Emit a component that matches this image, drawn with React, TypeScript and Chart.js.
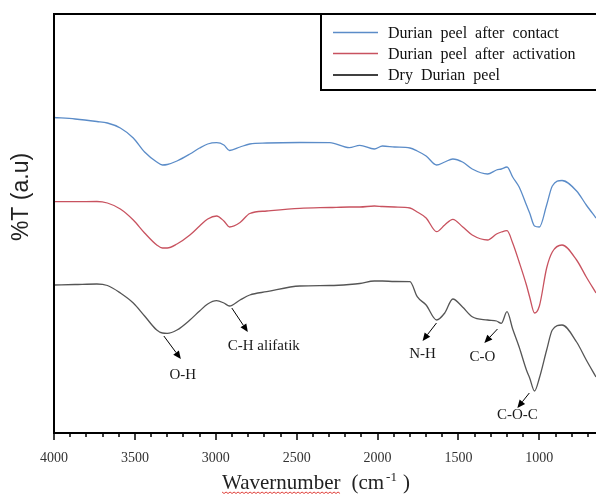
import React, { useEffect, useRef } from "react";
import { Chart, registerables } from "chart.js";

Chart.register(...registerables);

// Wavenumbers (cm-1) at which the spectra were read
const wavenumbers = [4000, 3870, 3735, 3670, 3590, 3510, 3440, 3365, 3330, 3300, 3240, 3160, 3100, 3050, 2995, 2950, 2915, 2850, 2790, 2685, 2480, 2295, 2175, 2110, 2020, 1970, 1895, 1800, 1755, 1700, 1635, 1585, 1535, 1475, 1415, 1320, 1265, 1235, 1200, 1165, 1125, 1080, 1060, 1030, 1000, 955, 920, 860, 770, 710, 650];

// %T (a.u.), offset spectra
const afterContact = [315.5, 314, 311.5, 310, 305, 295, 281, 271, 268, 268.5, 272, 279, 285, 289, 290.3, 288, 282.5, 286, 289, 290, 290.5, 290.3, 285.3, 287.7, 284, 287, 286, 285, 282, 277, 268, 271, 274, 271, 264, 259, 263, 264, 266, 256, 246, 228, 220, 207, 206, 228, 247, 252.5, 242, 228, 215];
const afterActivation = [231.3, 231.3, 231.5, 230, 224, 213, 200, 188, 185, 185, 189, 198, 207, 214, 217, 212, 206, 210.5, 219.5, 222, 224.7, 225.5, 226, 226, 227, 226.5, 226, 225, 221, 215, 201.3, 208, 213.7, 206.3, 198, 193, 199, 201, 202.3, 190, 171, 148, 136, 120, 127, 165, 181, 188, 173, 156, 140];
const dryPeel = [148, 148.5, 149, 147.5, 140, 130, 117, 103, 100, 99.7, 103, 113, 122, 129, 132.3, 130, 127, 133, 138, 141.3, 147, 147.5, 148.5, 149.5, 152, 152, 151.5, 151.3, 136.3, 128, 113, 120, 134, 126, 116.3, 113, 112, 109.7, 121.3, 104, 86, 63, 55, 42, 55, 83, 103, 108, 91, 73, 56];

const seriesNames = ["Durian peel after contact", "Durian peel after activation", "Dry Durian peel"];
const seriesColors = ["#5b8cc8", "#c8525f", "#555555"];
const legendLineColors = ["#5b8cc8", "#c8525f", "#000000"];

const xTickLabels = [4000, 3500, 3000, 2500, 2000, 1500, 1000];
const xMinorStep = 100;

// Band annotations: label, arrow start (w, v), arrow end (w, v), label anchor (w, v), alignment
const bandLabels = ["O-H", "C-H alifatik", "N-H", "C-O", "C-O-C"];
const bandArrowFrom = [[3321, 97], [2901, 125], [1636, 110], [1259, 104], [1062, 40]];
const bandArrowTo = [[3216, 74], [2802, 101], [1722, 92], [1340, 90], [1136, 25]];
const bandLabelAt = [[3204, 58], [2926, 87], [1722, 79], [1352, 76], [1136, 18]];
const bandAlign = ["center", "left", "center", "center", "center"];

const SERIF = '"Liberation Serif", "Times New Roman", serif';
const SANS = '"Liberation Sans", Arial, sans-serif';

const decor = {
  id: "decor",
  afterDraw(chart: any) {
    const { ctx, chartArea: a, scales } = chart;
    const x = scales.x;
    const y = scales.y;
    const W = chart.width;
    ctx.save();

    // frame
    ctx.strokeStyle = "#000";
    ctx.lineWidth = 2;
    ctx.beginPath();
    ctx.moveTo(a.left, a.bottom);
    ctx.lineTo(a.left, a.top);
    ctx.lineTo(W, a.top);
    ctx.moveTo(a.left - 1, a.bottom);
    ctx.lineTo(W, a.bottom);
    ctx.stroke();

    // ticks
    ctx.lineWidth = 1.5;
    ctx.beginPath();
    for (let w = xTickLabels[0]; w >= x.min; w -= xMinorStep) {
      const px = Math.round(x.getPixelForValue(w));
      const major = xTickLabels.includes(w);
      ctx.moveTo(px, a.bottom);
      ctx.lineTo(px, a.bottom + (major ? 7 : 4));
    }
    ctx.stroke();

    // tick labels
    ctx.fillStyle = "#333";
    ctx.font = `14px ${SERIF}`;
    ctx.textAlign = "center";
    ctx.textBaseline = "middle";
    xTickLabels.forEach((t) => {
      ctx.fillText(String(t), x.getPixelForValue(t), 458);
    });

    // x title
    ctx.fillStyle = "#222";
    ctx.textAlign = "left";
    ctx.textBaseline = "alphabetic";
    ctx.font = `21px ${SERIF}`;
    const t1 = "Wavernumber";
    const t2 = "(cm";
    const t3 = ")";
    const w1 = ctx.measureText(t1).width;
    const w2 = ctx.measureText(t2).width;
    ctx.font = `13px ${SERIF}`;
    const wSup = ctx.measureText("-1").width;
    const total = w1 + 11 + w2 + 2 + wSup + 6 + 7;
    const x0 = 316 - total / 2;
    ctx.font = `21px ${SERIF}`;
    ctx.fillText(t1, x0, 489);
    ctx.fillText(t2, x0 + w1 + 11, 489);
    ctx.font = `13px ${SERIF}`;
    ctx.fillText("-1", x0 + w1 + 11 + w2 + 2, 481);
    ctx.font = `21px ${SERIF}`;
    ctx.fillText(t3, x0 + w1 + 11 + w2 + 2 + wSup + 6, 489);

    // spell-check squiggle under "Wavernumber"
    ctx.strokeStyle = "#e0403a";
    ctx.lineWidth = 1;
    ctx.beginPath();
    for (let i = 0, px = x0; px <= x0 + w1; i++, px += 2) {
      const py = 492 + (i % 2 === 0 ? 0 : 1.5);
      if (i === 0) ctx.moveTo(px, py);
      else ctx.lineTo(px, py);
    }
    ctx.stroke();

    // y title
    ctx.save();
    ctx.translate(22, 197);
    ctx.rotate(-Math.PI / 2);
    ctx.fillStyle = "#222";
    ctx.font = `23px ${SANS}`;
    ctx.textAlign = "center";
    ctx.textBaseline = "middle";
    ctx.fillText("%T (a.u)", 0, 0);
    ctx.restore();

    // legend box
    ctx.strokeStyle = "#000";
    ctx.lineWidth = 2;
    ctx.beginPath();
    ctx.moveTo(321, a.top);
    ctx.lineTo(321, 90);
    ctx.lineTo(W, 90);
    ctx.stroke();
    const rows = [32.5, 53.5, 75];
    ctx.font = `16px ${SERIF}`;
    ctx.textBaseline = "middle";
    ctx.textAlign = "left";
    const spaceW = ctx.measureText(" ").width + 4;
    seriesNames.forEach((name, i) => {
      ctx.strokeStyle = legendLineColors[i];
      ctx.lineWidth = 1.3;
      ctx.beginPath();
      ctx.moveTo(333, rows[i]);
      ctx.lineTo(378, rows[i]);
      ctx.stroke();
      ctx.fillStyle = "#111";
      let px = 388;
      name.split(" ").forEach((word) => {
        ctx.fillText(word, px, rows[i] + 1);
        px += ctx.measureText(word).width + spaceW;
      });
    });

    // band annotations
    ctx.fillStyle = "#000";
    ctx.strokeStyle = "#000";
    bandLabels.forEach((lab, i) => {
      const xa = x.getPixelForValue(bandArrowFrom[i][0]);
      const ya = y.getPixelForValue(bandArrowFrom[i][1]);
      const xb = x.getPixelForValue(bandArrowTo[i][0]);
      const yb = y.getPixelForValue(bandArrowTo[i][1]);
      const ang = Math.atan2(yb - ya, xb - xa);
      const hl = 8;
      const hw = 3.5;
      const xbase = xb - hl * Math.cos(ang);
      const ybase = yb - hl * Math.sin(ang);
      ctx.lineWidth = 1;
      ctx.beginPath();
      ctx.moveTo(xa, ya);
      ctx.lineTo(xbase, ybase);
      ctx.stroke();
      ctx.beginPath();
      ctx.moveTo(xb, yb);
      ctx.lineTo(xbase + hw * Math.sin(ang), ybase - hw * Math.cos(ang));
      ctx.lineTo(xbase - hw * Math.sin(ang), ybase + hw * Math.cos(ang));
      ctx.closePath();
      ctx.fill();
      ctx.font = `15px ${SERIF}`;
      ctx.textAlign = bandAlign[i] as CanvasTextAlign;
      ctx.textBaseline = "middle";
      ctx.fillStyle = "#1a1a1a";
      ctx.fillText(lab, x.getPixelForValue(bandLabelAt[i][0]), y.getPixelForValue(bandLabelAt[i][1]));
      ctx.fillStyle = "#000";
    });

    ctx.restore();
  },
};

export default function App() {
  const ref = useRef<HTMLCanvasElement | null>(null);

  useEffect(() => {
    if (!ref.current) return;
    const series = [afterContact, afterActivation, dryPeel];
    const chart = new Chart(ref.current, {
      type: "line",
      data: {
        datasets: series.map((vals, i) => ({
          label: seriesNames[i],
          data: wavenumbers.map((w, k) => ({ x: w, y: vals[k] })),
          borderColor: seriesColors[i],
          borderWidth: 1.3,
          pointRadius: 0,
          fill: false,
          cubicInterpolationMode: "monotone" as const,
        })),
      },
      options: {
        animation: false,
        responsive: false,
        layout: { padding: { top: 14, left: 0, right: 0, bottom: 0 } },
        plugins: { legend: { display: false }, tooltip: { enabled: false } },
        scales: {
          x: {
            type: "linear",
            reverse: true,
            min: 650,
            max: 4000,
            grid: { display: false },
            border: { display: false },
            ticks: { display: false },
            afterFit: (s: any) => {
              s.height = 61;
            },
          },
          y: {
            type: "linear",
            min: 0,
            max: 419,
            grid: { display: false },
            border: { display: false },
            ticks: { display: false },
            afterFit: (s: any) => {
              s.width = 54;
            },
          },
        },
      },
      plugins: [decor],
    });
    return () => chart.destroy();
  }, []);

  return (
    <div style={{ position: "absolute", left: 0, top: 0, width: 596, height: 494, background: "#fff" }}>
      <canvas ref={ref} width={596} height={494} style={{ display: "block" }} />
    </div>
  );
}
